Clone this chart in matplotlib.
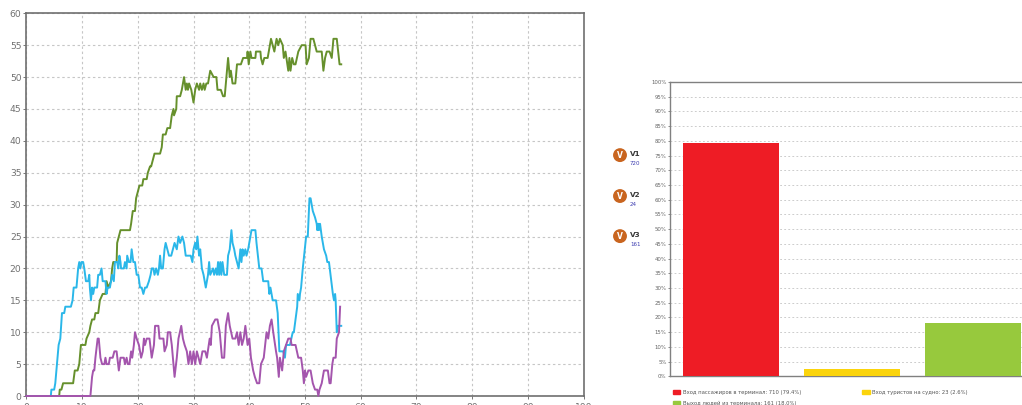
#! /usr/bin/env python3
# Two panels: counts over time (left) and share of flows as bars (right)

import matplotlib.pyplot as plt
from matplotlib.patches import Patch

# left panel
blue_x = [0, 4.4, 4.5, 5, 5.2, 5.5, 5.8, 6.1, 6.4, 6.8, 7, 8, 8.3, 8.5, 9, 9.3, 9.5, 9.7, 9.9, 10.2, 10.4, 10.7, 11.1, 11.3, 11.4, 11.6, 11.8, 12, 12.2, 12.7, 12.9, 13.2, 13.5, 13.7, 14.2, 14.4, 14.6, 15, 15.2, 15.4, 15.7, 15.9, 16.3, 16.5, 16.7, 16.9, 17, 17.5, 17.7, 18, 18.1, 18.4, 18.7, 18.9, 19.2, 19.5, 19.8, 20.1, 20.4, 20.7, 21, 21.3, 21.6, 22, 22.3, 22.5, 22.8, 23, 23.3, 23.6, 23.8, 24, 24.2, 24.5, 24.8, 25, 25.3, 25.6, 26, 26.6, 27, 27.3, 27.6, 28, 28.3, 28.6, 29.5, 29.8, 30, 30.3, 30.5, 30.7, 31, 31.2, 31.5, 31.8, 32.2, 32.6, 32.8, 33, 33.5, 33.7, 34, 34.2, 34.4, 34.6, 34.8, 35, 35.2, 35.5, 36, 36.2, 36.5, 36.8, 37, 37.3, 37.5, 37.8, 38.1, 38.4, 38.6, 38.8, 39, 39.3, 39.5, 39.8, 40.4, 41.1, 41.3, 41.8, 42.2, 42.5, 43.4, 43.6, 43.8, 44.2, 44.8, 45.1, 45.4, 46.1, 46.4, 46.6, 47.3, 47.8, 48, 48.6, 48.7, 49, 49.1, 49.3, 49.6, 50.2, 50.5, 50.8, 51, 51.4, 51.8, 52.1, 52.2, 52.4, 52.5, 52.7, 53, 53.4, 53.8, 54, 54.3, 55, 55.2, 55.4, 55.5, 55.7, 55.9, 56.5]
blue_y = [0, 0, 1, 1, 2, 5, 8, 9, 13, 13, 14, 14, 15, 17, 17, 20, 21, 20, 21, 21, 20, 18, 18, 19, 17, 15, 17, 16, 17, 17, 19, 19, 20, 18, 18, 16, 17, 17, 18, 19, 18, 21, 21, 20, 22, 21, 20, 20, 21, 20, 22, 21, 21, 23, 21, 21, 19, 19, 17, 17, 16, 17, 17, 18, 19, 20, 20, 19, 20, 19, 20, 22, 20, 20, 23, 24, 23, 22, 22, 24, 23, 25, 24, 25, 24, 22, 22, 21, 23, 24, 23, 25, 22, 23, 20, 19, 17, 19, 21, 19, 20, 19, 20, 19, 21, 19, 21, 19, 21, 19, 19, 22, 23, 26, 24, 23, 22, 21, 20, 23, 21, 23, 22, 23, 22, 23, 26, 26, 24, 20, 20, 18, 18, 16, 17, 15, 15, 13, 7, 7, 6, 8, 8, 10, 10, 14, 16, 15, 16, 17, 20, 25, 25, 31, 31, 29, 28, 27, 26, 27, 26, 27, 25, 23, 22, 21, 21, 16, 15, 16, 15, 10, 11, 11]

green_x = [0, 5.9, 6, 6.3, 6.6, 8.4, 8.7, 9.2, 9.5, 9.8, 10.6, 10.8, 11.3, 11.5, 11.8, 12.2, 12.4, 12.9, 13.2, 13.7, 14.2, 14.4, 14.7, 15.2, 15.4, 15.6, 16.2, 16.3, 16.6, 16.9, 18.6, 18.8, 19.1, 19.5, 19.7, 20, 20.3, 20.8, 21, 21.6, 21.8, 22.2, 22.4, 22.7, 23, 24, 24.3, 24.5, 25, 25.3, 25.8, 26.1, 26.4, 26.5, 26.9, 27, 27.6, 27.9, 28.3, 28.6, 28.8, 29, 29.2, 29.6, 30, 30.3, 30.6, 31, 31.2, 31.5, 31.8, 32, 32.3, 32.6, 33, 33.6, 34.1, 34.3, 34.9, 35.3, 35.6, 36.2, 36.5, 36.7, 37, 37.5, 37.8, 38.5, 38.9, 39.6, 39.7, 39.9, 40.2, 40.4, 41.1, 41.2, 42, 42.1, 42.4, 42.7, 43.3, 43.9, 44.5, 44.9, 45.2, 45.5, 46, 46.2, 46.5, 47, 47.2, 47.4, 47.7, 48, 48.3, 48.8, 49.4, 50.1, 50.3, 50.7, 51, 51.5, 51.8, 52.1, 53, 53.3, 53.6, 53.9, 54.4, 54.8, 55.1, 55.7, 56.2, 56.5]
green_y = [0, 0, 1, 1, 2, 2, 4, 4, 5, 8, 8, 9, 10, 11, 12, 12, 13, 13, 15, 16, 16, 18, 17, 18, 20, 21, 21, 24, 25, 26, 26, 27, 29, 29, 31, 32, 33, 33, 34, 34, 35, 36, 36, 37, 38, 38, 39, 41, 41, 42, 42, 44, 45, 44, 45, 47, 47, 48, 50, 48, 49, 48, 49, 48, 46, 48, 49, 48, 49, 48, 49, 48, 49, 49, 51, 50, 50, 48, 48, 47, 47, 53, 50, 51, 49, 49, 52, 52, 53, 53, 54, 52, 54, 53, 53, 54, 54, 53, 52, 53, 53, 56, 54, 56, 55, 56, 55, 53, 54, 51, 53, 51, 53, 52, 52, 54, 55, 55, 52, 53, 56, 56, 55, 54, 54, 51, 53, 54, 54, 53, 56, 56, 52, 52]

purple_x = [0, 11.5, 11.8, 12, 12.2, 12.4, 12.8, 13, 13.3, 13.6, 14, 14.2, 14.4, 14.8, 15, 15.5, 15.8, 16.2, 16.6, 16.9, 17.5, 17.7, 18, 18.2, 18.5, 18.8, 19, 19.3, 19.5, 19.8, 20.2, 20.6, 20.9, 21.1, 21.3, 21.6, 22.1, 22.5, 22.9, 23.1, 23.7, 23.9, 24.6, 24.8, 25.2, 25.4, 25.8, 26.1, 26.6, 27, 27.3, 27.8, 28.1, 28.4, 28.8, 29.1, 29.4, 29.7, 30, 30.3, 30.6, 30.9, 31.2, 31.6, 32.1, 32.4, 32.9, 33.1, 33.3, 33.9, 34.3, 34.7, 35.1, 35.5, 35.8, 36.2, 36.5, 37, 37.5, 37.8, 38.1, 38.4, 38.7, 39, 39.3, 39.7, 40, 40.3, 40.7, 41, 41.4, 41.8, 42.1, 42.6, 43.1, 43.4, 43.7, 44, 44.3, 44.8, 45, 45.3, 45.5, 45.9, 46.2, 46.6, 47, 47.4, 47.6, 48.3, 48.8, 49.3, 49.6, 49.8, 50, 50.2, 50.6, 51, 51.4, 51.8, 52.2, 52.4, 52.6, 53, 53.4, 54.1, 54.4, 54.6, 54.9, 55.1, 55.5, 55.7, 56.1, 56.3]
purple_y = [0, 0, 3, 4, 4, 6, 9, 9, 6, 5, 5, 6, 5, 5, 6, 6, 7, 7, 4, 6, 6, 5, 6, 5, 5, 7, 6, 8, 10, 9, 8, 6, 7, 9, 8, 9, 9, 6, 8, 11, 11, 9, 9, 7, 8, 10, 10, 8, 3, 6, 9, 11, 9, 8, 7, 5, 7, 5, 7, 5, 7, 6, 5, 7, 7, 6, 9, 8, 11, 12, 12, 10, 6, 6, 11, 13, 11, 9, 9, 10, 8, 10, 8, 9, 11, 8, 9, 6, 4, 3, 2, 2, 5, 6, 10, 9, 11, 12, 10, 7, 6, 3, 6, 4, 7, 8, 9, 9, 8, 8, 6, 6, 4, 2, 4, 3, 4, 4, 2, 1, 1, 0, 1, 2, 4, 4, 2, 2, 5, 6, 6, 9, 10, 14]

# right panel
flow_names = ['Вход пассажиров в терминал: 710 (79.4%)',
              'Вход туристов на судно: 23 (2.6%)',
              'Выход людей из терминала: 161 (18.0%)']
flow_share = [79.4, 2.6, 18.0]
flow_colors = ['#ee1c25', '#fbd40c', '#97c93d']

v_names = ['V1', 'V2', 'V3']
v_counts = [720, 24, 161]
v_rows = [0.617, 0.516, 0.417]

fig = plt.figure(figsize=(10.22, 4.05), dpi=100)
W, H = 1022.0, 405.0

# left chart
ax = fig.add_axes([26.3/W, 1-396/H, (583.7-26.3)/W, (396-13.3)/H])
ax.plot(green_x, green_y, color='#66902c', lw=1.4, zorder=3)
ax.plot(blue_x, blue_y, color='#2ab7e9', lw=1.4, zorder=4)
ax.plot(purple_x, purple_y, color='#a455ad', lw=1.4, zorder=5, clip_on=False)
ax.set_xlim(0, 100)
ax.set_ylim(0, 60)
ax.set_xticks(range(0, 101, 10))
ax.set_yticks(range(0, 61, 5))
ax.grid(True, ls=(0, (2.2, 2.4)), color='#c6c6c6', lw=0.8)
ax.set_axisbelow(True)
ax.tick_params(length=2, width=0.7, color='#777777', labelcolor='#707070', labelsize=6.6, pad=1.5)
ax.tick_params(axis='x', pad=3)
for s in ax.spines.values():
    s.set_color('#6f6f6f')
    s.set_linewidth(1.2)

# right chart
ax2 = fig.add_axes([670/W, 1-376.3/H, (1022-670)/W, (376.3-82)/H])
ax2.bar(range(3), flow_share, width=0.8, color=flow_colors, zorder=3)
ax2.set_xlim(-0.504, 2.405)
ax2.set_ylim(0, 100)
ax2.set_xticks([])
ax2.set_yticks(range(0, 101, 5))
ax2.set_yticklabels([str(v) + '%' for v in range(0, 101, 5)])
ax2.grid(True, axis='y', ls=(0, (2, 2.5)), color='#c8c8c8', lw=0.65)
ax2.set_axisbelow(True)
ax2.tick_params(length=1.5, width=0.6, color='#777777', labelcolor='#666666', labelsize=3.9, pad=1)
ax2.spines['right'].set_visible(False)
for name in ['left', 'top', 'bottom']:
    ax2.spines[name].set_color('#808080')
    ax2.spines[name].set_linewidth(1.0)

# legend fills by column, so green goes second to sit under red
handles = [Patch(color=flow_colors[i], label=flow_names[i]) for i in [0, 2, 1]]
ax2.legend(handles=handles, ncol=2, loc='upper left', bbox_to_anchor=(0.009, -0.046),
           frameon=False, fontsize=3.75, labelcolor='#555555', handlelength=1.4, handleheight=0.7,
           handletextpad=0.5, columnspacing=11.7, labelspacing=1.15, borderpad=0, borderaxespad=0)

# orange V badges to the left of the bars
for name, count, row in zip(v_names, v_counts, v_rows):
    fig.text(620/W, row, 'V', color='white', fontsize=5.5, fontweight='bold', ha='center', va='center',
             bbox=dict(boxstyle='circle,pad=0.32', fc='#c9651f', ec='none'))
    fig.text(630/W, row + 0.003, name, color='#3a3a3a', fontsize=5.2, fontweight='bold', va='center')
    fig.text(630/W, row - 0.021, str(count), color='#3c3cb0', fontsize=4, va='center')

plt.savefig('out.png', dpi=100)
